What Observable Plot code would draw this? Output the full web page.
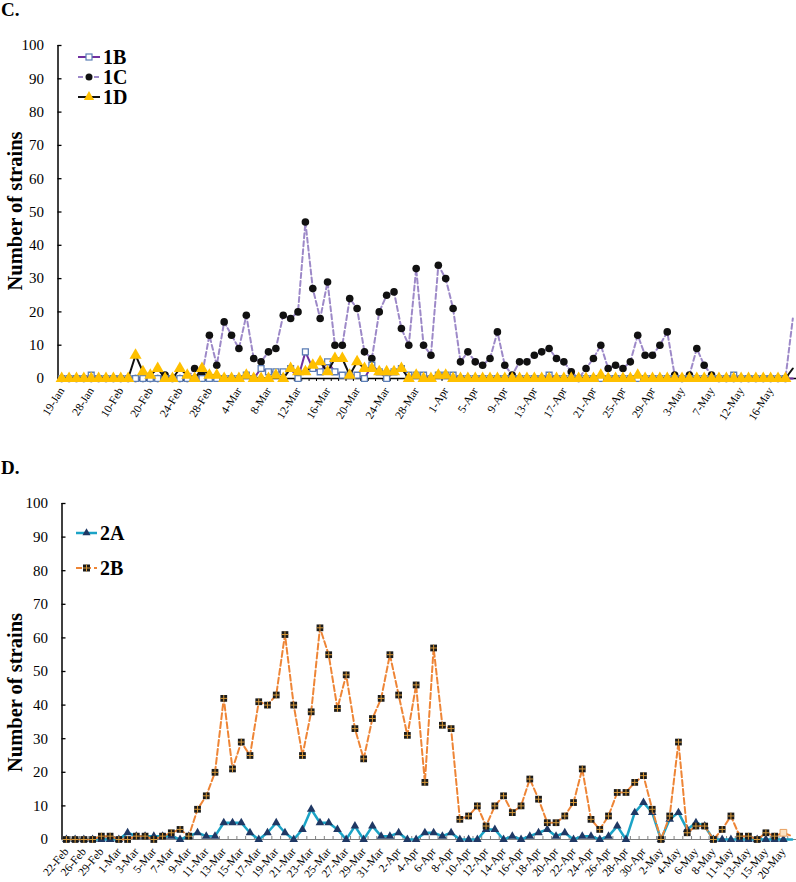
<!DOCTYPE html>
<html><head><meta charset="utf-8">
<script src="https://cdn.jsdelivr.net/npm/d3@7"></script>
<script src="https://cdn.jsdelivr.net/npm/@observablehq/plot@0.6"></script>
<style>
body{margin:0;background:#fff;}
#wrap{position:relative;width:796px;height:882px;overflow:hidden;font-family:"Liberation Serif","Times New Roman",serif;background:#fff;}
.panel{position:absolute;left:0;}
#legend{position:absolute;left:0;top:0;pointer-events:none;}
</style></head>
<body><div id="wrap"></div>
<script>
// ---------- Panel C data (one value per sampling day, 100 points) ----------
const labelsC = ["19-Jan","28-Jan","10-Feb","20-Feb","24-Feb","28-Feb","4-Mar","8-Mar","12-Mar","16-Mar","20-Mar","24-Mar","28-Mar","1-Apr","5-Apr","9-Apr","13-Apr","17-Apr","21-Apr","25-Apr","29-Apr","3-May","7-May","12-May","16-May"];
const seriesC = ["1B","1C","1D"];
const c1B = [0,0,0,0,1,0,0,0,0,0, 0,0,0,0,0,0,0,0,0,0, 0,0,0,0,0,1,0,3,2,2, 2,3,0,8,3,2,5,2,1,1,
             1,0,4,2,0,2,3,1,1,1, 0,1,1,1,0,0,0,0,0,0, 0,0,0,0,0,0,1,0,0,0, 0,0,0,0,0,0,0,0,0,0,
             0,0,0,0,0,0,0,0,0,0, 0,1,0,0,0,0,0,0,0,0];
const c1C = [0,0,0,0,0,0,0,0,0,0, 0,0,0,0,1,0,0,0,3,1, 13,4,17,13,9,19,6,5,8,9, 19,18,20,47,27,18,29,10,10,24,
             21,8,6,20,25,26,15,10,33,10, 7,34,30,21,5,8,5,4,6,14, 4,1,5,5,7,8,9,6,5,2, 0,3,6,10,3,4,3,5,13,7,
             7,10,14,1,0,1,9,4,1,0, 0,0,0,0,0,0,0,0,0,18];
const c1D = [0,0,0,0,0,0,0,0,0,0, 7,2,1,3,0,0,3,1,0,3, 1,1,0,0,0,1,0,0,0,1, 0,3,2,2,4,5,2,6,6,1,
             5,3,3,2,2,2,3,0,1,0, 0,1,1,0,0,0,0,0,0,0, 0,0,0,0,0,0,0,0,0,0, 0,0,0,1,0,0,0,0,1,0,
             0,0,0,0,0,0,0,0,0,0, 0,0,0,0,0,0,0,0,0,3];

// ---------- Panel D data (84 points) ----------
const labelsD = ["22-Feb","26-Feb","29-Feb","1-Mar","3-Mar","5-Mar","7-Mar","9-Mar","11-Mar","13-Mar","15-Mar","17-Mar","19-Mar","21-Mar","23-Mar","25-Mar","27-Mar","29-Mar","31-Mar","2-Apr","4-Apr","6-Apr","8-Apr","10-Apr","12-Apr","14-Apr","16-Apr","18-Apr","20-Apr","22-Apr","24-Apr","26-Apr","28-Apr","30-Apr","2-May","4-May","6-May","8-May","11-May","13-May","15-May","20-May"];
const seriesD = ["2A","2B"];
const d2A = [0,0,0,0,0,0,0,2,1,1, 1,1,1,0,1,2,1,1,5,5, 5,2,0,2,5,2,0,3,9,5, 5,3,0,4,0,4,1,1,2,0,
             0,2,2,1,2,0,0,0,3,3, 0,1,0,1,2,3,1,2,0,1, 1,0,1,4,0,8,11,8,0,6, 8,3,5,4,0,0,0,0,0,0,
             0,0,0,0];
const d2B = [0,0,0,0,1,1,0,0,1,1, 0,1,2,3,1,9,13,20,42,21, 29,25,41,40,43,61,40,25,38,63, 55,39,49,33,24,36,42,55,43,31,
             46,17,57,34,33,6,7,10,4,10, 13,8,10,18,12,5,5,7,11,21, 6,3,7,14,14,17,19,9,0,7, 29,2,4,4,0,3,7,1,1,0,
             2,1,2,1];

const yTicks = [0,10,20,30,40,50,60,70,80,90,100];

// ---------- helpers ----------
const FONT = '"Liberation Serif","Times New Roman",serif';
const rows = vals => vals.map((v, i) => ({i, v}));
const crossSymbol = {draw(ctx, size){ const r = Math.sqrt(size) / 2; ctx.moveTo(-r, 0); ctx.lineTo(r, 0); ctx.moveTo(0, -r); ctx.lineTo(0, r); }};

const colors = {
  "1B": "#7030a0", "1Bmark": "#5b7db5",
  "1C": "#9d89c8",
  "1D": "#111111", "1Dmark": "#ffc000",
  "2A": "#1ba3c6", "2Amark": "#1f3864",
  "2B": "#ee8536"
};

// ---------- Panel C ----------
const nC = c1B.length;
const rB = rows(c1B), rC = rows(c1C), rD = rows(c1D);
const chartC = Plot.plot({
  width: 796, height: 441,
  marginLeft: 57.5, marginRight: 0, marginTop: 45, marginBottom: 63,
  style: {fontFamily: FONT, background: "transparent", color: "#000", overflow: "visible"},
  x: {type: "linear", domain: [-0.5, nC - 0.5]},
  y: {domain: [0, 100]},
  marks: [
    Plot.axisY({ticks: yTicks, tickSize: 0, tickPadding: 14, fontSize: 15, label: null}),
    Plot.axisY({ticks: yTicks, tickSize: -4, tickFormat: () => "", label: null, strokeWidth: 1.3}),
    Plot.axisX({ticks: d3.range(0, labelsC.length * 4, 4), tickFormat: i => labelsC[i / 4], tickRotate: -58, tickSize: 0, tickPadding: 10, fontSize: 11.5, label: null}),
    Plot.axisX({ticks: d3.range(nC).map(i => i + 0.5), tickSize: 3, tickFormat: () => "", label: null}),
    Plot.ruleX([-0.5], {stroke: "#000", strokeWidth: 1.5}),
    Plot.ruleY([0], {stroke: "#000", strokeWidth: 1.5}),
    Plot.line(rC, {x: "i", y: "v", stroke: colors["1C"], strokeWidth: 2, strokeDasharray: "5,3"}),
    Plot.dot(rC.filter(d => d.i < nC - 1), {x: "i", y: "v", r: 3.8, fill: "#111", stroke: null}),
    Plot.line(rB, {x: "i", y: "v", stroke: colors["1B"], strokeWidth: 2}),
    Plot.dot(rB.filter(d => d.i < nC - 1), {x: "i", y: "v", symbol: "square", r: 3.3, fill: "#fff", stroke: colors["1Bmark"], strokeWidth: 1.3}),
    Plot.line(rD, {x: "i", y: "v", stroke: colors["1D"], strokeWidth: 2}),
    Plot.dot(rD.filter(d => d.i < nC - 1), {x: "i", y: "v", symbol: "triangle", r: 4.5, fill: colors["1Dmark"], stroke: null}),
    Plot.text(["Number of strains"], {frameAnchor: "left", textAnchor: "middle", rotate: -90, dx: -43, dy: -1, fontSize: 20.5, fontWeight: "bold", fill: "#000"}),
    Plot.text(["C."], {frameAnchor: "top-left", dx: -57, dy: -43, textAnchor: "start", lineAnchor: "top", fontSize: 19, fontWeight: "bold", fill: "#000"})
  ]
});

// ---------- Panel D ----------
const nD = d2A.length;
const rA2 = rows(d2A), rB2 = rows(d2B);
const chartD = Plot.plot({
  width: 796, height: 441,
  marginLeft: 61.5, marginRight: 0, marginTop: 62, marginBottom: 43,
  style: {fontFamily: FONT, background: "transparent", color: "#000", overflow: "visible"},
  x: {type: "linear", domain: [-0.5, nD - 0.5]},
  y: {domain: [0, 100]},
  marks: [
    Plot.axisY({ticks: yTicks, tickSize: 0, tickPadding: 14, fontSize: 15, label: null}),
    Plot.axisY({ticks: yTicks, tickSize: -4, tickFormat: () => "", label: null, strokeWidth: 1.3}),
    Plot.axisX({ticks: d3.range(0, labelsD.length * 2, 2), tickFormat: i => labelsD[i / 2], tickRotate: -50, tickSize: 0, tickPadding: 10, fontSize: 11.5, label: null}),
    Plot.axisX({ticks: d3.range(nD).map(i => i + 0.5), tickSize: -3, tickFormat: () => "", label: null, stroke: "#808080"}),
    Plot.ruleX([-0.5], {stroke: "#000", strokeWidth: 1.5}),
    Plot.ruleY([0], {stroke: "#808080", strokeWidth: 1.2}),
    Plot.line(rA2, {x: "i", y: "v", stroke: colors["2A"], strokeWidth: 2.5}),
    Plot.dot(rA2.filter(d => d.i < nD - 1), {x: "i", y: "v", symbol: "triangle", r: 3.2, fill: colors["2Amark"], stroke: null}),
    Plot.line(rB2, {x: "i", y: "v", stroke: colors["2B"], strokeWidth: 2, strokeDasharray: "6,3"}),
    Plot.dot(rB2.filter(d => d.i < nD - 2), {x: "i", y: "v", symbol: "square", r: 3.8, fill: "#1a1a1a", stroke: null}),
    Plot.dot(rB2.filter(d => d.i < nD - 2), {x: "i", y: "v", symbol: crossSymbol, r: 3.8, fill: "none", stroke: "#d99a3a", strokeWidth: 1}),
    Plot.dot(rB2.filter(d => d.i === nD - 2), {x: "i", y: "v", symbol: "square", r: 3.8, fill: "#fbe3c4", stroke: "#e8a060", strokeWidth: 1}),
    Plot.text(["Number of strains"], {frameAnchor: "left", textAnchor: "middle", rotate: -90, dx: -47, dy: 21, fontSize: 20.5, fontWeight: "bold", fill: "#000"}),
    Plot.text(["D."], {frameAnchor: "top-left", dx: -61, dy: -43, textAnchor: "start", lineAnchor: "top", fontSize: 19, fontWeight: "bold", fill: "#000"})
  ]
});

const wrap = document.getElementById("wrap");
chartC.classList.add("panel"); chartC.style.top = "0px";
chartD.classList.add("panel"); chartD.style.top = "441px";
wrap.appendChild(chartC);
wrap.appendChild(chartD);

// ---------- Legends ----------
const svg = d3.select(wrap).append("svg").attr("id", "legend").attr("width", 796).attr("height", 882);
function legendItem(x0, x1, y, name, lineColor, dash, width, markerFn){
  svg.append("line").attr("x1", x0).attr("x2", x1).attr("y1", y).attr("y2", y)
    .attr("stroke", lineColor).attr("stroke-width", width).attr("stroke-dasharray", dash || null);
  markerFn((x0 + x1) / 2, y);
  svg.append("text").attr("x", x1 + 3).attr("y", y).attr("dy", "0.35em")
    .attr("font-family", FONT).attr("font-weight", "bold").attr("font-size", 20).text(name);
}
const tri = (cx, cy, r, fill) => svg.append("path").attr("transform", `translate(${cx},${cy})`).attr("d", d3.symbol(d3.symbolTriangle, Math.PI * r * r)()).attr("fill", fill);
legendItem(78, 100, 57, seriesC[0], colors["1B"], null, 2, (cx, cy) => svg.append("rect").attr("x", cx - 3).attr("y", cy - 3).attr("width", 6).attr("height", 6).attr("fill", "#fff").attr("stroke", colors["1Bmark"]).attr("stroke-width", 1.2));
legendItem(78, 100, 77, seriesC[1], colors["1C"], "5,3", 2, (cx, cy) => svg.append("circle").attr("cx", cx).attr("cy", cy).attr("r", 3.5).attr("fill", "#111"));
legendItem(78, 100, 97, seriesC[2], colors["1D"], null, 2, (cx, cy) => tri(cx, cy, 3.8, colors["1Dmark"]));
legendItem(76, 97, 533, seriesD[0], colors["2A"], null, 2.5, (cx, cy) => tri(cx, cy, 3, colors["2Amark"]));
legendItem(76, 97, 568, seriesD[1], colors["2B"], "6,3", 2, (cx, cy) => {
  svg.append("rect").attr("x", cx - 3.5).attr("y", cy - 3.5).attr("width", 7).attr("height", 7).attr("fill", "#1a1a1a");
  svg.append("path").attr("d", `M${cx-3.5},${cy}H${cx+3.5}M${cx},${cy-3.5}V${cy+3.5}`).attr("stroke", "#d99a3a").attr("stroke-width", 1);
});
</script></body></html>
